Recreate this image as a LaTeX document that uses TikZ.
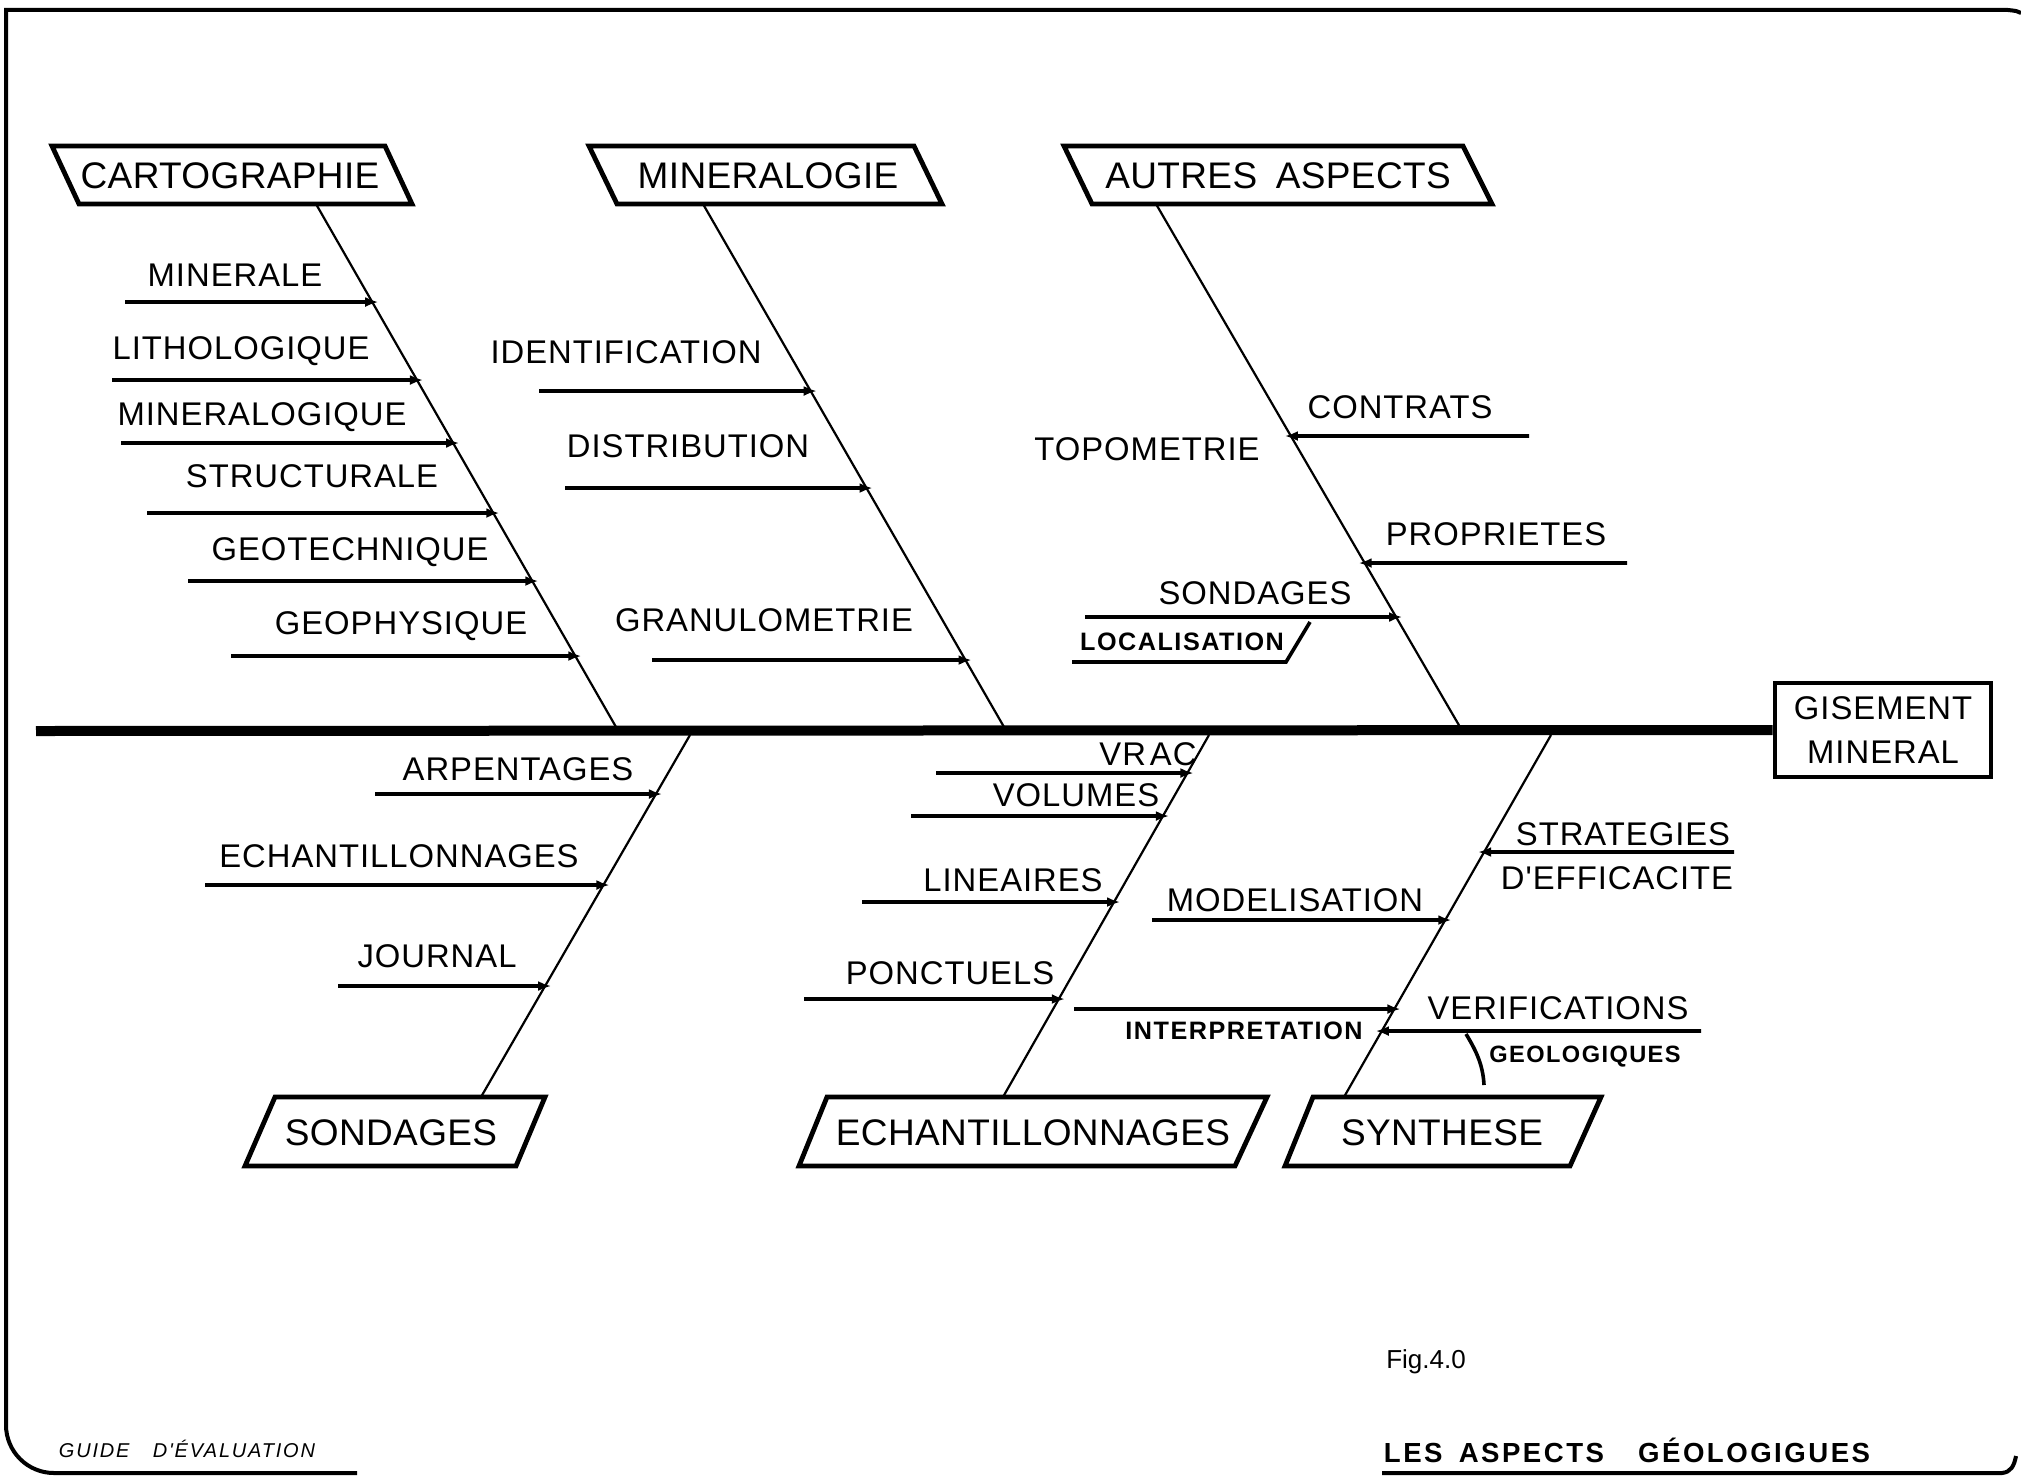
\documentclass[tikz,border=0pt]{standalone}
\usepackage{fontspec}
\setmainfont{Liberation Sans}
\newfontfamily\labfont{Liberation Sans}[LetterSpace=3]
\newfontfamily\smallfont{Liberation Sans}[LetterSpace=6]
\newfontfamily\titlefont{Liberation Sans}[LetterSpace=1]
\newfontfamily\footfont{Liberation Sans}[LetterSpace=9]
\usetikzlibrary{arrows.meta}

% a horizontal cause arrow ending on a rib: #1,#2 rib ends, #3 height, #4 free end x, #5 name
\newcommand\twig[5]{%
  \coordinate (#5-h1) at (0,#3);
  \coordinate (#5-h2) at (100,#3);
  \coordinate (#5) at (intersection of #1--#2 and #5-h1--#5-h2);
  \coordinate (#5-free) at (#4,#3);
  \draw[twigline] (#5-free) -- (#5);
}

\begin{document}
\begin{tikzpicture}[x=0.5pt,y=-0.5pt,
  title/.style={font=\titlefont\fontsize{18.5}{20}\selectfont, inner sep=0pt, text height=13.3pt, text depth=0pt},
  lab/.style={font=\labfont\fontsize{16.4}{18}\selectfont, inner sep=0pt, text height=11.8pt, text depth=0pt},
  tiny/.style={font=\smallfont\bfseries\fontsize{12.6}{14}\selectfont, inner sep=0pt, text height=9pt, text depth=0pt},
  boxline/.style={line width=2.4pt, line join=miter},
  rib/.style={line width=1.1pt},
  twigline/.style={line width=1.8pt, shorten >=-3pt, -{Latex[length=6.5pt,width=5pt]}},
  spine/.style={line width=5pt},
  frame/.style={line width=2pt},
]
\useasboundingbox (0,0) rectangle (2021,1477);

% page frame
\draw[frame] (2021,13) .. controls (2017,11) .. (2008,10) -- (6,10) -- (6,1425)
  arc[start angle=180, end angle=90, radius=48] -- (357,1473);
\draw[frame] (1382,1473) -- (2002,1473) .. controls (2011,1472) and (2014,1466) .. (2016,1456);

% effect box and spine
\node[draw, line width=2.4pt, minimum width=108pt, minimum height=47pt, align=center,
      font=\labfont\fontsize{16.4}{22}\selectfont, inner sep=0pt] (gis) at (1883,730) {GISEMENT\\MINERAL};
\coordinate (tail) at (36,731);
\draw[spine] (tail) -- (gis.west);

% category boxes, upper side
\node[title] (cart) at (230,175) {CARTOGRAPHIE};
\draw[boxline] (52,146) -- (385,146) -- (412,204) -- (79,204) -- cycle;
\node[title] (mine) at (768,175) {MINERALOGIE};
\draw[boxline] (589,146) -- (914,146) -- (942,204) -- (617,204) -- cycle;
\node[title] (autr) at (1278,175) {AUTRES\hspace{4pt} ASPECTS};
\draw[boxline] (1064,146) -- (1463,146) -- (1492,204) -- (1092,204) -- cycle;

% category boxes, lower side
\node[title] (sond) at (391,1132) {SONDAGES};
\draw[boxline] (275,1097) -- (545,1097) -- (516,1166) -- (245,1166) -- cycle;
\node[title] (echa) at (1033,1132) {ECHANTILLONNAGES};
\draw[boxline] (827,1097) -- (1267,1097) -- (1235,1166) -- (799,1166) -- cycle;
\node[title] (synt) at (1442,1132) {SYNTHESE};
\draw[boxline] (1313,1097) -- (1601,1097) -- (1570,1166) -- (1285,1166) -- cycle;

% ribs
\coordinate (cartA) at (316,204);  \coordinate (cartB) at (616,727);
\coordinate (mineA) at (703,204);  \coordinate (mineB) at (1004,727);
\coordinate (autrA) at (1156,204); \coordinate (autrB) at (1460,727);
\coordinate (sondA) at (690,735);  \coordinate (sondB) at (481,1097);
\coordinate (echaA) at (1209,735); \coordinate (echaB) at (1003,1097);
\coordinate (syntA) at (1551,735); \coordinate (syntB) at (1344,1097);
\foreach \r in {cart,mine,autr,sond,echa,synt} \draw[rib] (\r A) -- (\r B);

% CARTOGRAPHIE
\twig{cartA}{cartB}{302}{125}{c1}
\twig{cartA}{cartB}{380}{112}{c2}
\twig{cartA}{cartB}{443}{121}{c3}
\twig{cartA}{cartB}{513}{147}{c4}
\twig{cartA}{cartB}{581}{188}{c5}
\twig{cartA}{cartB}{656}{231}{c6}
\node[lab] (l-c1) at (235,275) {MINERALE};
\node[lab] (l-c2) at (241,348) {LITHOLOGIQUE};
\node[lab] (l-c3) at (262,414) {MINERALOGIQUE};
\node[lab] (l-c4) at (312,476) {STRUCTURALE};
\node[lab] (l-c5) at (350,549) {GEOTECHNIQUE};
\node[lab] (l-c6) at (401,623) {GEOPHYSIQUE};

% MINERALOGIE
\twig{mineA}{mineB}{391}{539}{m1}
\twig{mineA}{mineB}{488}{565}{m2}
\twig{mineA}{mineB}{660}{652}{m3}
\node[lab] (l-m1) at (626,352) {IDENTIFICATION};
\node[lab] (l-m2) at (688,446) {DISTRIBUTION};
\node[lab] (l-m3) at (764,620) {GRANULOMETRIE};

% AUTRES ASPECTS
\twig{autrA}{autrB}{436}{1529}{a1}
\twig{autrA}{autrB}{563}{1627}{a2}
\twig{autrA}{autrB}{617}{1085}{a3}
\node[lab] (l-a1) at (1400,407) {CONTRATS};
\node[lab] (l-a0) at (1147,449) {TOPOMETRIE};
\node[lab] (l-a2) at (1496,534) {PROPRIETES};
\node[lab] (l-a3) at (1255,593) {SONDAGES};
\node[tiny] (l-a4) at (1182,641) {LOCALISATION};
\draw[line width=1.8pt] (1072,662) -- (1286,662) -- (1310,622);

% SONDAGES
\twig{sondA}{sondB}{794}{375}{s1}
\twig{sondA}{sondB}{885}{205}{s2}
\twig{sondA}{sondB}{986}{338}{s3}
\node[lab] (l-s1) at (518,769) {ARPENTAGES};
\node[lab] (l-s2) at (399,856) {ECHANTILLONNAGES};
\node[lab] (l-s3) at (437,956) {JOURNAL};

% ECHANTILLONNAGES
\twig{echaA}{echaB}{773}{936}{e1}
\twig{echaA}{echaB}{816}{911}{e2}
\twig{echaA}{echaB}{902}{862}{e3}
\twig{echaA}{echaB}{999}{804}{e4}
\node[lab] (l-e1) at (1148,754) {VR\hspace{2pt}AC};
\node[lab] (l-e2) at (1076,795) {VOLUMES};
\node[lab] (l-e3) at (1013,880) {LINEAIRES};
\node[lab] (l-e4) at (950,973) {PONCTUELS};

% SYNTHESE
\twig{syntA}{syntB}{852}{1734}{y1}
\twig{syntA}{syntB}{920}{1152}{y2}
\twig{syntA}{syntB}{1009}{1074}{y3}
\twig{syntA}{syntB}{1031}{1701}{y4}
\node[lab] (l-y1) at (1623,834) {STRATEGIES};
\node[lab] (l-y1b) at (1617,878) {D'EFFICACITE};
\node[lab] (l-y2) at (1295,900) {MODELISATION};
\node[tiny] (l-y3) at (1244,1030) {INTERPRETATION};
\node[lab] (l-y4) at (1558,1008) {VERIFICATIONS};
\node[tiny, font=\smallfont\bfseries\fontsize{11.8}{14}\selectfont] (l-y4b) at (1585,1053) {GEOLOGIQUES};
\draw[line width=1.8pt] (1466,1034) .. controls (1477,1052) and (1483,1066) .. (1484,1085);

% footer
\node[font=\footfont\itshape\fontsize{10}{12}\selectfont, inner sep=0pt] (guide) at (187,1449) {GUIDE\hspace{8pt} D'ÉVALUATION};
\node[font=\fontsize{13}{15}\selectfont, inner sep=0pt] (fig) at (1426,1362) {Fig.4.0};
\node[font=\footfont\bfseries\fontsize{13.8}{16}\selectfont, inner sep=0pt] (head) at (1627,1450) {LES\hspace{3pt} ASPECTS\hspace{12pt} GÉOLOGIGUES};
\end{tikzpicture}
\end{document}
